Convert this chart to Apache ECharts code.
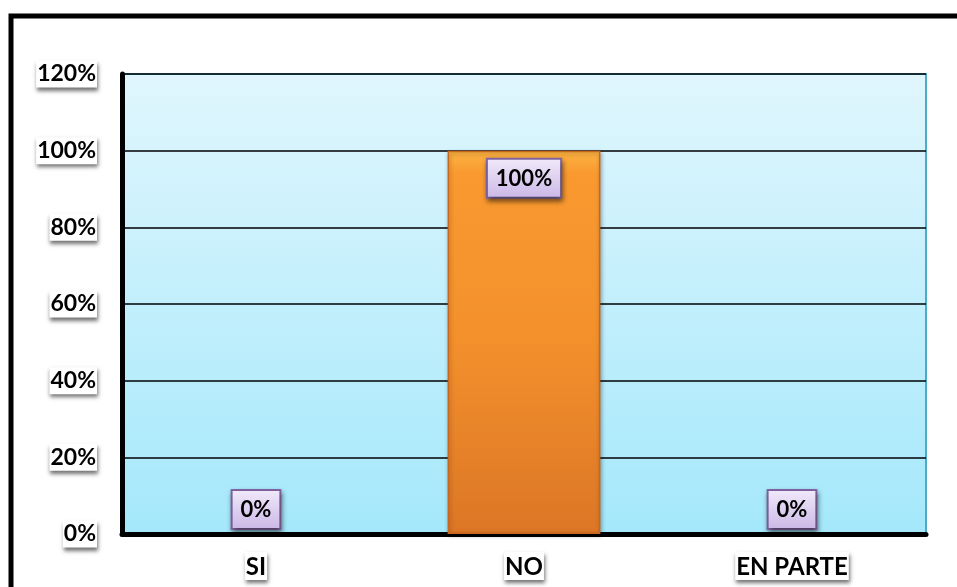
<!DOCTYPE html>
<html>
<head>
<meta charset="utf-8">
<script src="https://cdn.jsdelivr.net/npm/echarts@6/dist/echarts.min.js"></script>
<style>
  html, body { margin: 0; padding: 0; background: #ffffff; }
  #chart { width: 957px; height: 587px; }
</style>
</head>
<body>
<div id="chart"></div>
<script>
// Survey answers and their shares (percent)
const categories = ['SI', 'NO', 'EN PARTE'];
const shares = [0, 100, 0];
const yTicks = { min: 0, max: 120, step: 20 };

const FONT = 'Lato, "Open Sans", sans-serif';

const chart = echarts.init(document.getElementById('chart'), null, { renderer: 'canvas' });

const tickBox = {
  backgroundColor: '#ffffff',
  padding: [3, 1, 1, 1],
  shadowColor: 'rgba(0,0,0,0.55)',
  shadowBlur: 4,
  shadowOffsetX: 1,
  shadowOffsetY: 3
};

const valueBox = {
  show: true,
  formatter: p => p.value + '%',
  color: '#000000',
  fontFamily: FONT,
  fontWeight: 'bold',
  fontSize: 22,
  padding: [8, 8, 7, 8],
  borderColor: '#8064a2',
  borderWidth: 2,
  backgroundColor: new echarts.graphic.LinearGradient(0, 0, 0, 1, [
    { offset: 0, color: '#f1eafa' },
    { offset: 1, color: '#cbb7e6' }
  ]),
  shadowColor: 'rgba(0,0,0,0.45)',
  shadowBlur: 5,
  shadowOffsetX: 1,
  shadowOffsetY: 3
};

const seriesData = shares.map(v => {
  const label = Object.assign({}, valueBox,
    v > 0 ? { position: 'insideTop', distance: 9 } : { position: 'top', distance: 6 });
  const item = { value: v, label: label };
  if (v === 0) {
    // an empty bar should leave no outline on the baseline
    item.itemStyle = { borderWidth: 0, shadowBlur: 0, shadowColor: 'rgba(0,0,0,0)' };
  }
  return item;
});

chart.setOption({
  animation: false,
  graphic: [{
    type: 'rect',
    shape: { x: 11, y: 16, width: 990, height: 620 },
    style: { fill: 'none', stroke: '#000000', lineWidth: 5 },
    z: 10
  }],
  grid: {
    left: 122, right: 31, top: 74, bottom: 53,
    show: true,
    borderColor: '#4bacc6',
    borderWidth: 2,
    backgroundColor: new echarts.graphic.LinearGradient(0, 0, 0, 1, [
      { offset: 0, color: '#e0f6fd' },
      { offset: 1, color: '#a4e8fb' }
    ])
  },
  xAxis: {
    type: 'category',
    data: categories,
    axisLine: { show: true, lineStyle: { color: '#000000', width: 5 } },
    axisTick: { show: false },
    axisLabel: Object.assign({
      color: '#000000',
      fontFamily: FONT,
      fontWeight: 'bold',
      fontSize: 24,
      margin: 18
    }, tickBox)
  },
  yAxis: {
    type: 'value',
    min: yTicks.min,
    max: yTicks.max,
    interval: yTicks.step,
    axisLine: { show: true, lineStyle: { color: '#000000', width: 5 } },
    axisTick: { show: false },
    splitLine: { show: true, lineStyle: { color: '#000000', width: 1.5 } },
    axisLabel: Object.assign({
      color: '#000000',
      fontFamily: FONT,
      fontWeight: 'bold',
      fontSize: 23,
      margin: 25,
      formatter: '{value}%'
    }, tickBox)
  },
  series: [{
    type: 'bar',
    data: seriesData,
    barWidth: '57%',
    itemStyle: {
      color: new echarts.graphic.LinearGradient(0, 0, 0, 1, [
        { offset: 0, color: '#fdb443' },
        { offset: 0.06, color: '#f9992f' },
        { offset: 0.5, color: '#f3902c' },
        { offset: 1, color: '#dc7626' }
      ]),
      borderColor: '#c8661c',
      borderWidth: 1.5,
      shadowColor: 'rgba(0,0,0,0.3)',
      shadowBlur: 4,
      shadowOffsetX: 1,
      shadowOffsetY: 2
    }
  }]
});
</script>
</body>
</html>
